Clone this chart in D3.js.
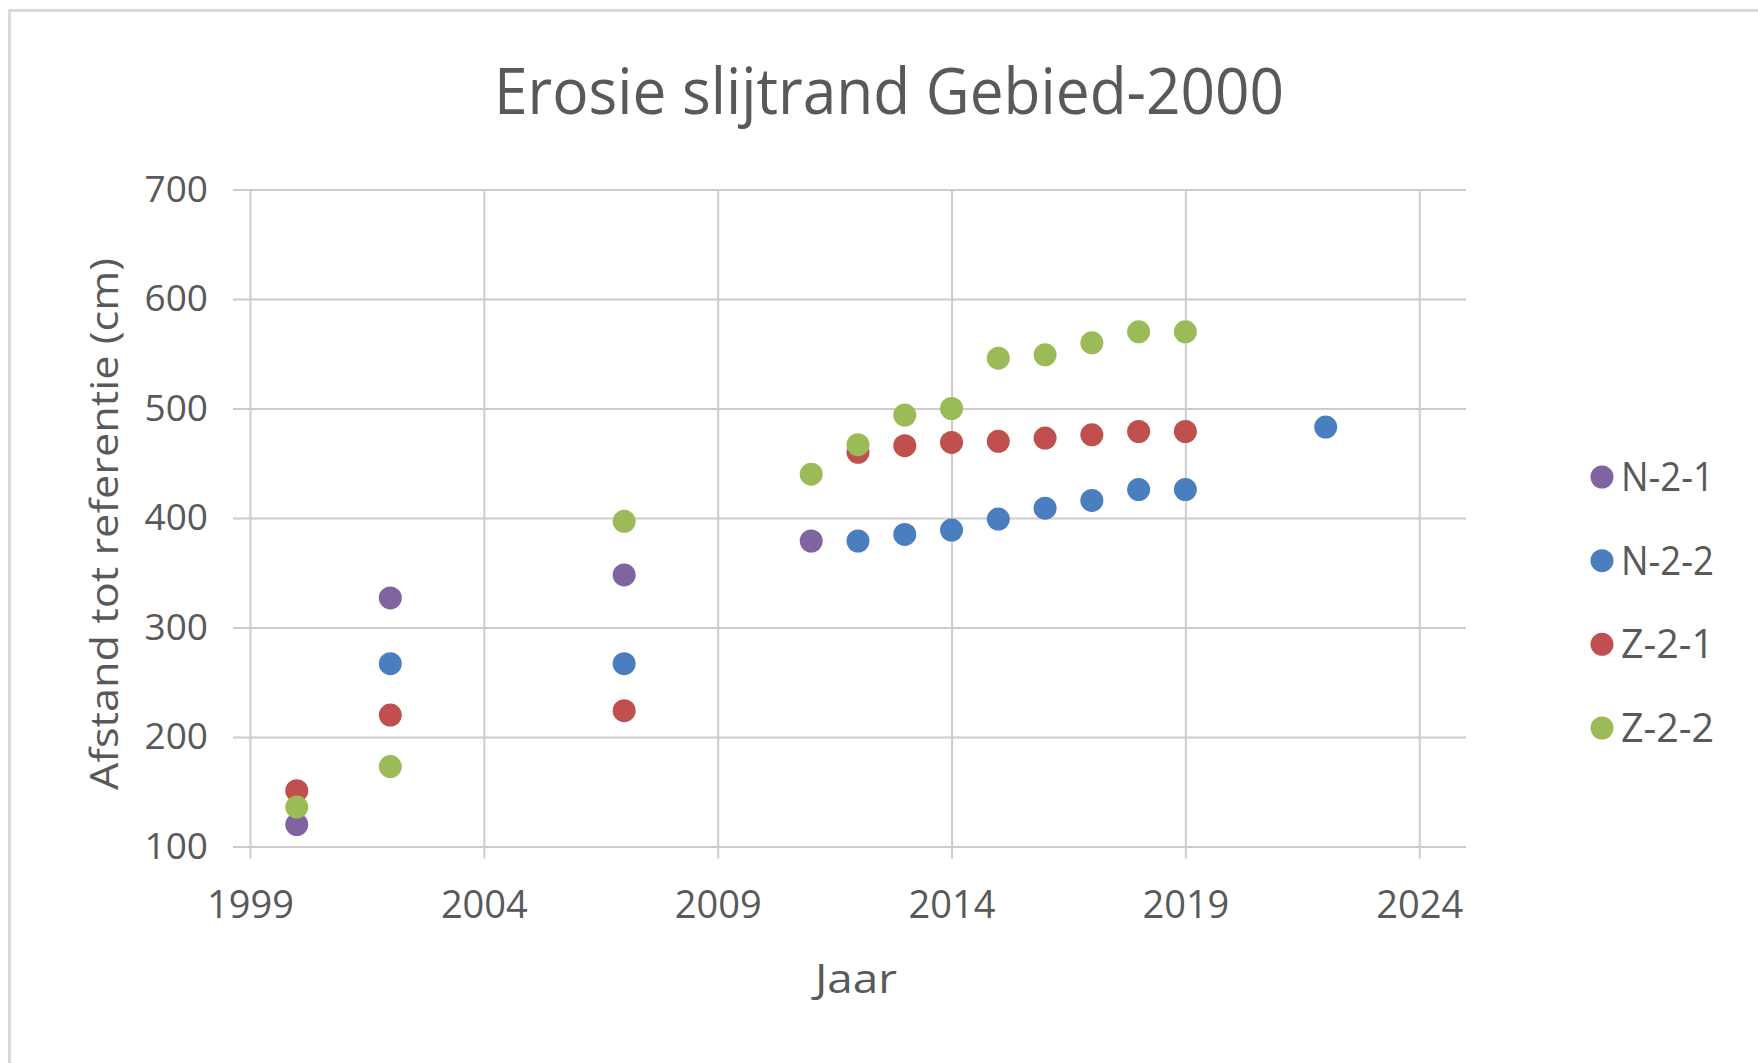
<!DOCTYPE html>
<html>
<head>
<meta charset="utf-8">
<script src="https://cdn.jsdelivr.net/npm/d3@7"></script>
<style>
  html, body { margin: 0; padding: 0; background: #fff; overflow: hidden; }
  svg { display: block; font-family: "Open Sans", sans-serif; }
  .axis text { fill: #595959; }
  .axis line { stroke: #cccccc; stroke-width: 2; }
</style>
</head>
<body>
<div id="chart"></div>
<script>
// series
const seriesNames = ["N-2-1", "N-2-2", "Z-2-1", "Z-2-2"];
const seriesColors = ["#8064a2", "#4a7ebf", "#c0504d", "#9bbb59"];

const n21Years = [2000, 2002, 2007, 2011];
const n21Values = [120, 327, 348, 379];

const n22Years = [2002, 2007, 2012, 2013, 2014, 2015, 2016, 2017, 2018, 2019, 2022];
const n22Values = [267, 267, 379, 385, 389, 399, 409, 416, 426, 426, 483];

const z21Years = [2000, 2002, 2007, 2012, 2013, 2014, 2015, 2016, 2017, 2018, 2019];
const z21Values = [151, 220, 224, 460, 466, 469, 470, 473, 476, 479, 479];

const z22Years = [2000, 2002, 2007, 2011, 2012, 2013, 2014, 2015, 2016, 2017, 2018, 2019];
const z22Values = [136, 173, 397, 440, 467, 494, 500, 546, 549, 560, 570, 570];

const xTicks = [1999, 2004, 2009, 2014, 2019, 2024];
const yTicks = [100, 200, 300, 400, 500, 600, 700];

const title = "Erosie slijtrand Gebied-2000";
const xTitle = "Jaar";
const yTitle = "Afstand tot referentie (cm)";

const width = 1758;
const height = 1063;

const svg = d3
  .select("#chart")
  .append("svg")
  .attr("width", width)
  .attr("height", height);

// outer chart frame (only top and left edges visible)
svg
  .append("rect")
  .attr("x", 9.5)
  .attr("y", 10.5)
  .attr("width", width + 20)
  .attr("height", height + 20)
  .attr("fill", "#fff")
  .attr("stroke", "#d9d9d9")
  .attr("stroke-width", 3);

const plot = { left: 250, right: 1466, top: 189.5, bottom: 846.5 };

const x = d3.scaleLinear().domain([1999, 2025]).range([plot.left, plot.right]);
const y = d3.scaleLinear().domain([100, 700]).range([plot.bottom, plot.top]);

const tickOut = 17;

// y axis: gridlines + outside tick marks in one go
const yAxis = d3
  .axisLeft(y)
  .tickValues(yTicks)
  .tickSizeInner(-(plot.right - plot.left + tickOut))
  .tickSizeOuter(0)
  .tickPadding(25);

svg
  .append("g")
  .attr("class", "axis")
  .attr("transform", `translate(${plot.left - tickOut},0)`)
  .call(yAxis)
  .call((g) => g.select(".domain").remove())
  .call((g) => g.selectAll("text").attr("font-size", 37).attr("font-family", "Open Sans"));

const xTickOut = 12;
const xAxis = d3
  .axisBottom(x)
  .tickValues(xTicks)
  .tickFormat((d) => d)
  .tickSizeInner(-(plot.bottom - plot.top + xTickOut))
  .tickSizeOuter(0)
  .tickPadding(33);

svg
  .append("g")
  .attr("class", "axis")
  .attr("transform", `translate(0,${plot.bottom + xTickOut})`)
  .call(xAxis)
  .call((g) => g.select(".domain").remove())
  .call((g) => g.selectAll("text").attr("font-size", 38).attr("font-family", "Open Sans"));

// points
const series = [
  { name: seriesNames[0], years: n21Years, values: n21Values },
  { name: seriesNames[1], years: n22Years, values: n22Values },
  { name: seriesNames[2], years: z21Years, values: z21Values },
  { name: seriesNames[3], years: z22Years, values: z22Values },
];

const color = d3.scaleOrdinal().domain(seriesNames).range(seriesColors);

svg
  .append("g")
  .selectAll("g")
  .data(series)
  .join("g")
  .attr("fill", (d) => color(d.name))
  .selectAll("circle")
  .data((d) => d.years.map((yr, i) => [yr, d.values[i]]))
  .join("circle")
  .attr("cx", (d) => x(d[0]))
  .attr("cy", (d) => y(d[1]))
  .attr("r", 11.5);

// titles
svg
  .append("text")
  .attr("x", 889)
  .attr("y", 114)
  .attr("text-anchor", "middle")
  .attr("font-size", 64)
  .attr("fill", "#595959")
  .attr("textLength", 790)
  .attr("lengthAdjust", "spacingAndGlyphs")
  .text(title);

svg
  .append("text")
  .attr("x", 856)
  .attr("y", 993)
  .attr("text-anchor", "middle")
  .attr("font-size", 41)
  .attr("fill", "#595959")
  .attr("textLength", 82)
  .attr("lengthAdjust", "spacingAndGlyphs")
  .text(xTitle);

svg
  .append("text")
  .attr("transform", "translate(118,524) rotate(-90)")
  .attr("text-anchor", "middle")
  .attr("font-size", 38)
  .attr("fill", "#595959")
  .attr("textLength", 532)
  .attr("lengthAdjust", "spacingAndGlyphs")
  .text(yTitle);

// legend
const legendY = d3.scalePoint().domain(seriesNames).range([477, 728]);

const legend = svg
  .append("g")
  .selectAll("g")
  .data(seriesNames)
  .join("g")
  .attr("transform", (d) => `translate(1602,${legendY(d)})`);

legend.append("circle").attr("r", 11.5).attr("fill", (d) => color(d));

legend
  .append("text")
  .attr("x", 19)
  .attr("y", 14)
  .attr("font-size", 40)
  .attr("fill", "#595959")
  .attr("textLength", 93)
  .attr("lengthAdjust", "spacingAndGlyphs")
  .text((d) => d);
</script>
</body>
</html>
